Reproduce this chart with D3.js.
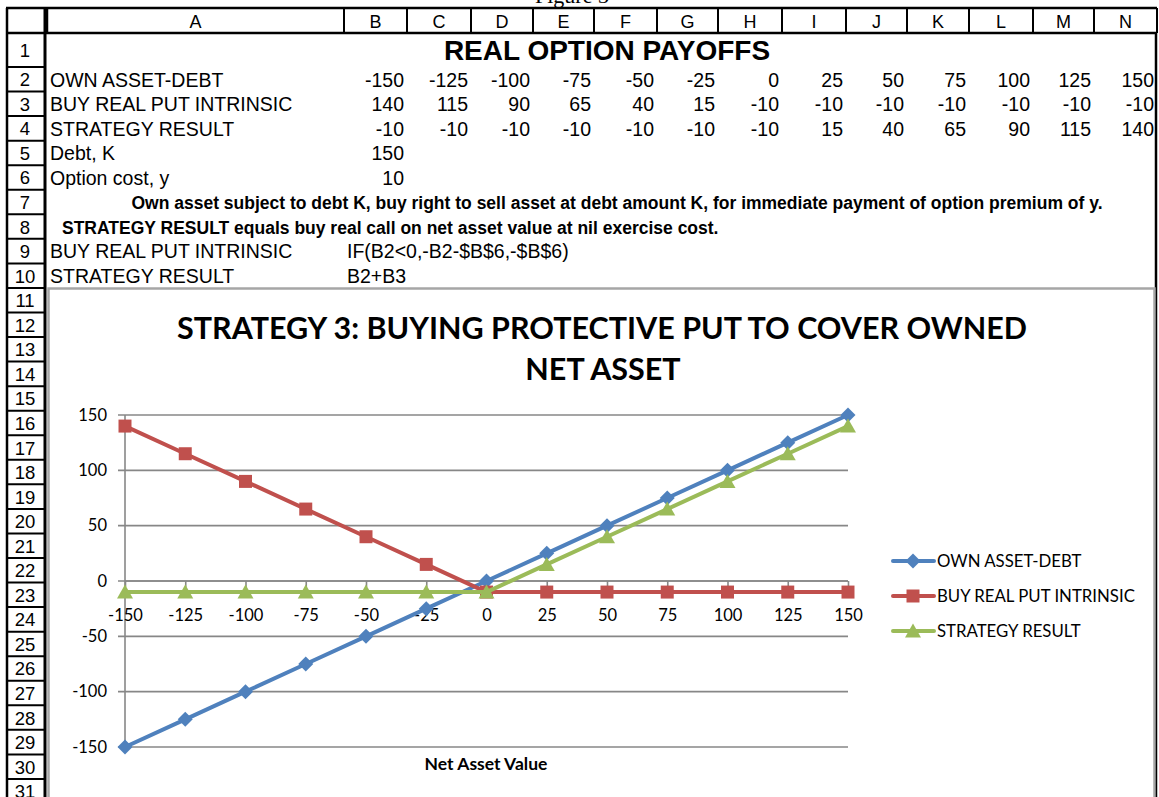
<!DOCTYPE html>
<html><head><meta charset="utf-8">
<script src="https://cdn.jsdelivr.net/npm/d3@7"></script>
<style>body{margin:0;background:#fff;overflow:hidden} svg{display:block}</style>
</head><body>
<svg id="c" width="1159" height="797"></svg>
<script>
// ---------- DATA ----------
const categories = [-150,-125,-100,-75,-50,-25,0,25,50,75,100,125,150];
const ownAssetDebt = [-150,-125,-100,-75,-50,-25,0,25,50,75,100,125,150];
const buyRealPutIntrinsic = [140,115,90,65,40,15,-10,-10,-10,-10,-10,-10,-10];
const strategyResult = [-10,-10,-10,-10,-10,-10,-10,15,40,65,90,115,140];
const seriesNames = ["OWN ASSET-DEBT","BUY REAL PUT INTRINSIC","STRATEGY RESULT"];
const yTicks = [-150,-100,-50,0,50,100,150];
const columnLetters = ["A","B","C","D","E","F","G","H","I","J","K","L","M","N"];
const debtK = 150;
const optionCost = 10;
const sheetTitle = "REAL OPTION PAYOFFS";
const chartTitle = ["STRATEGY 3: BUYING PROTECTIVE PUT TO COVER OWNED","NET ASSET"];
const xAxisTitle = "Net Asset Value";
const note7 = "Own asset subject to debt K, buy right to sell asset at debt amount K, for immediate payment of option premium of y.";
const note8 = "STRATEGY RESULT equals buy real call on net asset value at nil exercise cost.";
const formulaRows = [["BUY REAL PUT INTRINSIC","IF(B2<0,-B2-$B$6,-$B$6)"],["STRATEGY RESULT","B2+B3"]];

// ---------- LAYOUT ----------
const colEdges = [47,344,407,471,533,594,657,718,782,846,907,969,1033,1094,1157];
const rowH = 24.55;
function rowTop(r){ return r===1 ? 33 : 67 + (r-2)*rowH; }
function rowBot(r){ return r===1 ? 67 : rowTop(r)+rowH; }
const cellFont = "'Liberation Sans', Arial, sans-serif";
const chartFont = "Lato, 'Open Sans', sans-serif";
const cellSize = 19.5;

const svg = d3.select("#c");
svg.append("rect").attr("width",1159).attr("height",797).attr("fill","#fff");

// clipped caption at the very top
svg.append("text").attr("x",572).attr("y",3).attr("text-anchor","middle")
  .attr("font-family","'Liberation Serif', serif").attr("font-size",22).attr("fill","#000").text("Figure 3");

// column header
const hdr = svg.append("g");
hdr.append("rect").attr("x",6).attr("y",8).attr("width",1151).attr("height",25).attr("fill","#fff");
hdr.append("line").attr("x1",6).attr("x2",1157).attr("y1",8).attr("y2",8).attr("stroke","#000").attr("stroke-width",2.5);
hdr.append("line").attr("x1",6).attr("x2",1157).attr("y1",33).attr("y2",33).attr("stroke","#000").attr("stroke-width",2.5);
colEdges.forEach((x,i)=>{
  hdr.append("line").attr("x1",x).attr("x2",x).attr("y1",8).attr("y2",33).attr("stroke","#000").attr("stroke-width",i===0?2.5:2);
});
hdr.append("line").attr("x1",7).attr("x2",7).attr("y1",8).attr("y2",797).attr("stroke","#000").attr("stroke-width",2.5);
columnLetters.forEach((c,i)=>{
  hdr.append("text").attr("x",(colEdges[i]+colEdges[i+1])/2).attr("y",27.5).attr("text-anchor","middle")
    .attr("font-family",cellFont).attr("font-size",18).text(c);
});

// row headers
for(let r=1;r<=31;r++){
  hdr.append("line").attr("x1",6).attr("x2",45).attr("y1",rowBot(r)).attr("y2",rowBot(r)).attr("stroke","#000").attr("stroke-width",2);
  hdr.append("text").attr("x",25).attr("y",(rowTop(r)+rowBot(r))/2+7).attr("text-anchor","middle")
    .attr("font-family",cellFont).attr("font-size",18.5).text(r);
}
hdr.append("line").attr("x1",45).attr("x2",45).attr("y1",8).attr("y2",797).attr("stroke","#000").attr("stroke-width",3);
hdr.append("line").attr("x1",1156).attr("x2",1156).attr("y1",33).attr("y2",797).attr("stroke","#000").attr("stroke-width",2.5);

// sheet cells
const cells = svg.append("g").attr("font-family",cellFont).attr("fill","#000");
function base(r){ return rowBot(r)-5; }
cells.append("text").attr("x",(colEdges[0]+colEdges[14])/2+5).attr("y",base(1)-2).attr("text-anchor","middle")
  .attr("font-size",28).attr("font-weight","bold").text(sheetTitle);
[ownAssetDebt,buyRealPutIntrinsic,strategyResult].forEach((arr,k)=>{
  const r=k+2;
  cells.append("text").attr("x",50).attr("y",base(r)).attr("font-size",cellSize).text(seriesNames[k]);
  arr.forEach((v,i)=>{
    cells.append("text").attr("x",colEdges[i+2]-3).attr("y",base(r)).attr("text-anchor","end").attr("font-size",cellSize).text(v);
  });
});
cells.append("text").attr("x",50).attr("y",base(5)).attr("font-size",cellSize).text("Debt, K");
cells.append("text").attr("x",colEdges[2]-3).attr("y",base(5)).attr("text-anchor","end").attr("font-size",cellSize).text(debtK);
cells.append("text").attr("x",50).attr("y",base(6)).attr("font-size",cellSize).text("Option cost, y");
cells.append("text").attr("x",colEdges[2]-3).attr("y",base(6)).attr("text-anchor","end").attr("font-size",cellSize).text(optionCost);
cells.append("text").attr("x",617).attr("y",base(7)).attr("text-anchor","middle").attr("font-size",17.5).attr("font-weight","bold").text(note7);
cells.append("text").attr("x",62).attr("y",base(8)).attr("font-size",17.5).attr("font-weight","bold").text(note8);
formulaRows.forEach((fr,k)=>{
  const r=9+k;
  cells.append("text").attr("x",50).attr("y",base(r)).attr("font-size",cellSize).text(fr[0]);
  cells.append("text").attr("x",347).attr("y",base(r)).attr("font-size",cellSize).text(fr[1]);
});

// ---------- CHART ----------
const ch = svg.append("g");
ch.append("rect").attr("x",48.5).attr("y",288.5).attr("width",1106).attr("height",520).attr("fill","#fff")
  .attr("stroke","#a6a6a6").attr("stroke-width",2.5);

const x = d3.scalePoint().domain(categories).range([125,848]);
const y = d3.scaleLinear().domain([-150,150]).range([747,415]);
const axisCol = "#878787";

// gridlines + y axis
const yAxis = d3.axisLeft(y).tickValues(yTicks).tickSize(0).tickPadding(18).tickFormat(d=>String(d));
const yg = ch.append("g").attr("transform","translate(125,0)").call(yAxis);
yg.select(".domain").remove();
yg.selectAll("text").attr("font-family",chartFont).attr("font-size",16.5).attr("fill","#000");
ch.append("g").selectAll("line").data(yTicks).join("line")
  .attr("x1",118).attr("x2",848).attr("y1",d=>y(d)).attr("y2",d=>y(d))
  .attr("stroke",axisCol).attr("stroke-width",1.6);
ch.append("line").attr("x1",125).attr("x2",125).attr("y1",y(150)).attr("y2",y(-150)).attr("stroke",axisCol).attr("stroke-width",1.6);

// x axis at zero
const xAxis = d3.axisBottom(x).tickSize(6).tickPadding(22).tickFormat(d=>String(d));
const xg = ch.append("g").attr("transform",`translate(0,${y(0)})`).call(xAxis);
xg.select(".domain").attr("stroke",axisCol).attr("stroke-width",1.6).attr("d",`M125,0H848`);
xg.selectAll(".tick line").attr("stroke",axisCol).attr("stroke-width",1.6);
xg.selectAll("text").attr("font-family",chartFont).attr("font-size",16.5).attr("fill","#000");

// series
const colors = ["#4F81BD","#C0504D","#9BBB59"];
const seriesData = [ownAssetDebt,buyRealPutIntrinsic,strategyResult];
const markerPath = [
  "M0,-7.5L7.5,0L0,7.5L-7.5,0Z",
  "M-6.5,-6.5H6.5V6.5H-6.5Z",
  "M0,-7.5L8,6.5L-8,6.5Z"
];
const line = d3.line().x((d,i)=>x(categories[i])).y(d=>y(d));
seriesData.forEach((arr,k)=>{
  const g = ch.append("g");
  g.append("path").attr("d",line(arr)).attr("fill","none").attr("stroke",colors[k]).attr("stroke-width",4).attr("stroke-linejoin","round");
  g.selectAll("path.m").data(arr).join("path").attr("class","m")
    .attr("transform",(d,i)=>`translate(${x(categories[i])},${y(d)})`)
    .attr("d",markerPath[k]).attr("fill",colors[k]);
});

// titles
ch.append("text").attr("x",602).attr("y",339).attr("text-anchor","middle")
  .attr("font-family",chartFont).attr("font-weight","bold").attr("font-size",30.5).text(chartTitle[0]);
ch.append("text").attr("x",603).attr("y",380).attr("text-anchor","middle")
  .attr("font-family",chartFont).attr("font-weight","bold").attr("font-size",30.5).text(chartTitle[1]);
ch.append("text").attr("x",486).attr("y",770).attr("text-anchor","middle")
  .attr("font-family",chartFont).attr("font-weight","bold").attr("font-size",17.5).text(xAxisTitle);

// legend
const legY = [561,596,631];
seriesNames.forEach((n,k)=>{
  const g = ch.append("g").attr("transform",`translate(0,${legY[k]})`);
  g.append("line").attr("x1",893).attr("x2",934).attr("stroke",colors[k]).attr("stroke-width",4).attr("stroke-linecap","round");
  g.append("path").attr("transform","translate(913,0)").attr("d",markerPath[k]).attr("fill",colors[k]);
  g.append("text").attr("x",937).attr("y",6).attr("font-family",chartFont).attr("font-size",16.8).text(n);
});
</script>
</body></html>
